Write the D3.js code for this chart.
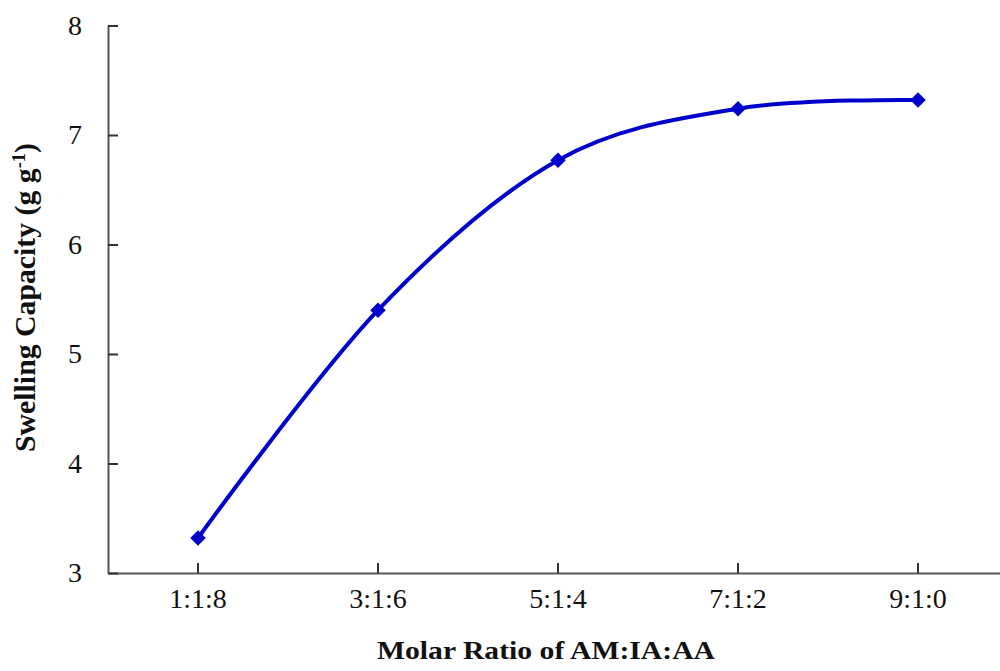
<!DOCTYPE html>
<html>
<head>
<meta charset="utf-8">
<script src="https://cdn.jsdelivr.net/npm/d3@7"></script>
<style>
  html, body { margin: 0; padding: 0; background: #fff; }
  svg { display: block; }
</style>
</head>
<body>
<svg id="chart" width="1000" height="671"></svg>
<script>
// Swelling capacity against monomer molar ratio
const ratios = ["1:1:8", "3:1:6", "5:1:4", "7:1:2", "9:1:0"];
const swelling = [3.32, 5.40, 6.77, 7.24, 7.32];
const yTicks = [3, 4, 5, 6, 7, 8];

const svg = d3.select("#chart");
const plotLeft = 108, plotBottom = 573, plotTop = 25.5, bandW = 180;

const x = d3.scaleBand().domain(ratios).range([plotLeft, plotLeft + bandW * ratios.length]).padding(0);
const y = d3.scaleLinear().domain([3, 8]).range([plotBottom, plotTop]);

const font = "'Liberation Serif', 'Times New Roman', serif";
const axisColor = "#555";

// x axis, ticks pointing inward
const gx = svg.append("g")
  .attr("transform", `translate(0,${plotBottom})`)
  .call(d3.axisBottom(x).tickSizeInner(-10).tickSizeOuter(0).tickPadding(15));
gx.select(".domain").attr("stroke", axisColor).attr("stroke-width", 2);
gx.selectAll(".tick line").attr("stroke", "#333").attr("stroke-width", 2);
gx.selectAll(".tick text")
  .attr("font-family", font).attr("font-size", 28).attr("fill", "#111");

// y axis, ticks pointing inward
const gy = svg.append("g")
  .attr("transform", `translate(${plotLeft},0)`)
  .call(d3.axisLeft(y).tickValues(yTicks).tickFormat(d3.format("d"))
    .tickSizeInner(-10).tickSizeOuter(0).tickPadding(26));
gy.select(".domain").attr("stroke", axisColor).attr("stroke-width", 2);
gy.selectAll(".tick line").attr("stroke", "#333").attr("stroke-width", 2);
gy.selectAll(".tick text")
  .attr("font-family", font).attr("font-size", 28).attr("fill", "#111");

// smoothed series line
const pts = ratios.map((r, i) => [x(r) + x.bandwidth() / 2, y(swelling[i])]);
const line = d3.line().curve(d3.curveCardinal.tension(0));
svg.append("path")
  .attr("d", line(pts))
  .attr("fill", "none")
  .attr("stroke", "#0000CC")
  .attr("stroke-width", 4);

// diamond markers
svg.append("g").selectAll("path")
  .data(pts)
  .join("path")
  .attr("d", d3.symbol(d3.symbolSquare, 120)())
  .attr("transform", d => `translate(${d[0]},${d[1]}) rotate(45)`)
  .attr("fill", "#0000CC");

// axis titles
svg.append("text")
  .attr("x", 546).attr("y", 659)
  .attr("text-anchor", "middle")
  .attr("font-family", font).attr("font-weight", "bold").attr("font-size", 26)
  .attr("fill", "#111")
  .attr("textLength", 338).attr("lengthAdjust", "spacingAndGlyphs")
  .text("Molar Ratio of AM:IA:AA");

const yt = svg.append("text")
  .attr("transform", "translate(35,297.5) rotate(-90)")
  .attr("text-anchor", "middle")
  .attr("font-family", font).attr("font-weight", "bold")
  .attr("fill", "#111");
const ytMain = yt.append("tspan").text("Swelling Capacity (g g");
const ytSup = yt.append("tspan").attr("baseline-shift", "super").text("-1");
const ytEnd = yt.append("tspan").text(")");

// size the y title so it spans the same length as drawn
function sizeYTitle(fs) {
  yt.attr("font-size", fs);
  ytSup.attr("font-size", fs * 0.62);
}
sizeYTitle(24);
const len = yt.node().getComputedTextLength();
sizeYTitle(24 * 309 / len);
</script>
</body>
</html>
